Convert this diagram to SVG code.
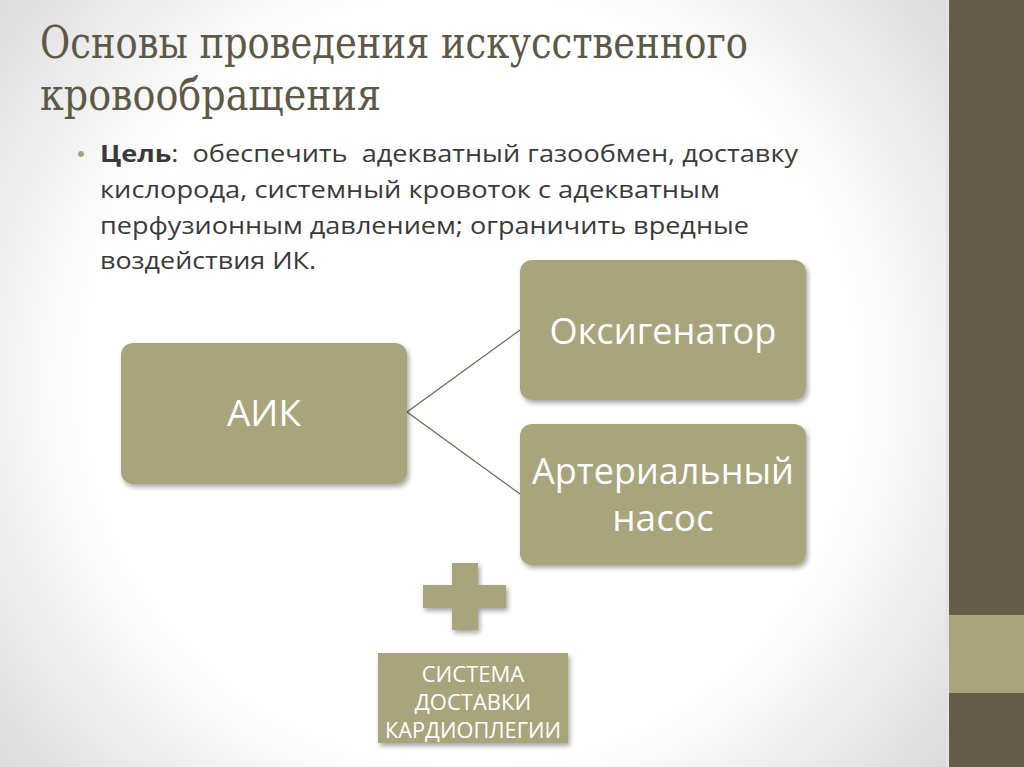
<svg xmlns="http://www.w3.org/2000/svg" width="1024" height="767" viewBox="0 0 1024 767">
<defs>
<radialGradient id="bg" cx="470" cy="380" r="640" gradientUnits="userSpaceOnUse">
<stop offset="0" stop-color="#ffffff"/>
<stop offset="0.6" stop-color="#ffffff"/>
<stop offset="1" stop-color="#d6d6d6"/>
</radialGradient>
<filter id="sh" x="-10%" y="-10%" width="125%" height="130%">
<feGaussianBlur in="SourceAlpha" stdDeviation="2.5"/>
<feOffset dx="2" dy="3"/>
<feComponentTransfer><feFuncA type="linear" slope="0.35"/></feComponentTransfer>
<feMerge><feMergeNode/><feMergeNode in="SourceGraphic"/></feMerge>
</filter>
</defs>
<style>
.box{fill:#a8a47c;filter:url(#sh)}
.bt{font-family:"Open Sans","Noto Sans","Liberation Sans",sans-serif;fill:#ffffff;text-anchor:middle}
.body{font-family:"Open Sans","Noto Sans","Liberation Sans",sans-serif;font-size:23px;fill:#3a3a3a;white-space:pre}
.title{font-family:"DejaVu Serif Condensed","DejaVu Serif","Liberation Serif",serif;font-stretch:condensed;font-size:45px;fill:#5d5946}
.conn{stroke:#6f6b58;stroke-width:1.3;fill:none}
</style>
<rect width="1024" height="767" fill="url(#bg)"/>
<rect x="946" y="0" width="3" height="767" fill="#e4e4e4"/>
<rect x="949" y="0" width="75" height="767" fill="#655d47"/>
<rect x="949" y="615" width="75" height="78" fill="#a8a47c"/>

<g id="title">
<text class="title" x="40" y="58" textLength="708" lengthAdjust="spacingAndGlyphs">Основы проведения искусственного</text>
<text class="title" x="40" y="110" textLength="341" lengthAdjust="spacingAndGlyphs">кровообращения</text>
</g>

<g id="bullet">
<circle cx="81" cy="154" r="3" fill="#a8a47c"/>
<text class="body" x="100" y="162" textLength="698" lengthAdjust="spacingAndGlyphs" xml:space="preserve"><tspan font-weight="bold">Цель</tspan>:  обеспечить  адекватный газообмен, доставку</text>
<text class="body" x="100" y="198" textLength="620" lengthAdjust="spacingAndGlyphs">кислорода, системный кровоток с адекватным</text>
<text class="body" x="100" y="234" textLength="649" lengthAdjust="spacingAndGlyphs">перфузионным давлением; ограничить вредные</text>
<text class="body" x="100" y="269" textLength="216" lengthAdjust="spacingAndGlyphs">воздействия ИК.</text>
</g>

<g id="connectors">
<line class="conn" x1="407" y1="412" x2="520" y2="330"/>
<line class="conn" x1="407" y1="412" x2="520" y2="494"/>
</g>

<g id="aik">
<rect class="box" x="121" y="343" width="286" height="141" rx="12"/>
<text class="bt" x="264" y="426" font-size="37">АИК</text>
</g>

<g id="oxygenator">
<rect class="box" x="520" y="260" width="286" height="140" rx="12"/>
<text class="bt" x="663" y="344" font-size="37" textLength="227" lengthAdjust="spacingAndGlyphs">Оксигенатор</text>
</g>

<g id="pump">
<rect class="box" x="520" y="424" width="286" height="141" rx="12"/>
<text class="bt" x="663" y="484" font-size="37" textLength="262" lengthAdjust="spacingAndGlyphs">Артериальный</text>
<text class="bt" x="663" y="531" font-size="37">насос</text>
</g>

<g id="plus">
<path class="box" d="M452 563 H478 V585 H506 V608 H478 V630 H452 V608 H423 V585 H452 Z"/>
</g>

<g id="cardioplegia">
<rect class="box" x="378" y="653" width="190" height="90"/>
<text class="bt" x="473" y="682" font-size="22">СИСТЕМА</text>
<text class="bt" x="473" y="710" font-size="22">ДОСТАВКИ</text>
<text class="bt" x="473" y="738" font-size="22" textLength="176" lengthAdjust="spacingAndGlyphs">КАРДИОПЛЕГИИ</text>
</g>
</svg>
